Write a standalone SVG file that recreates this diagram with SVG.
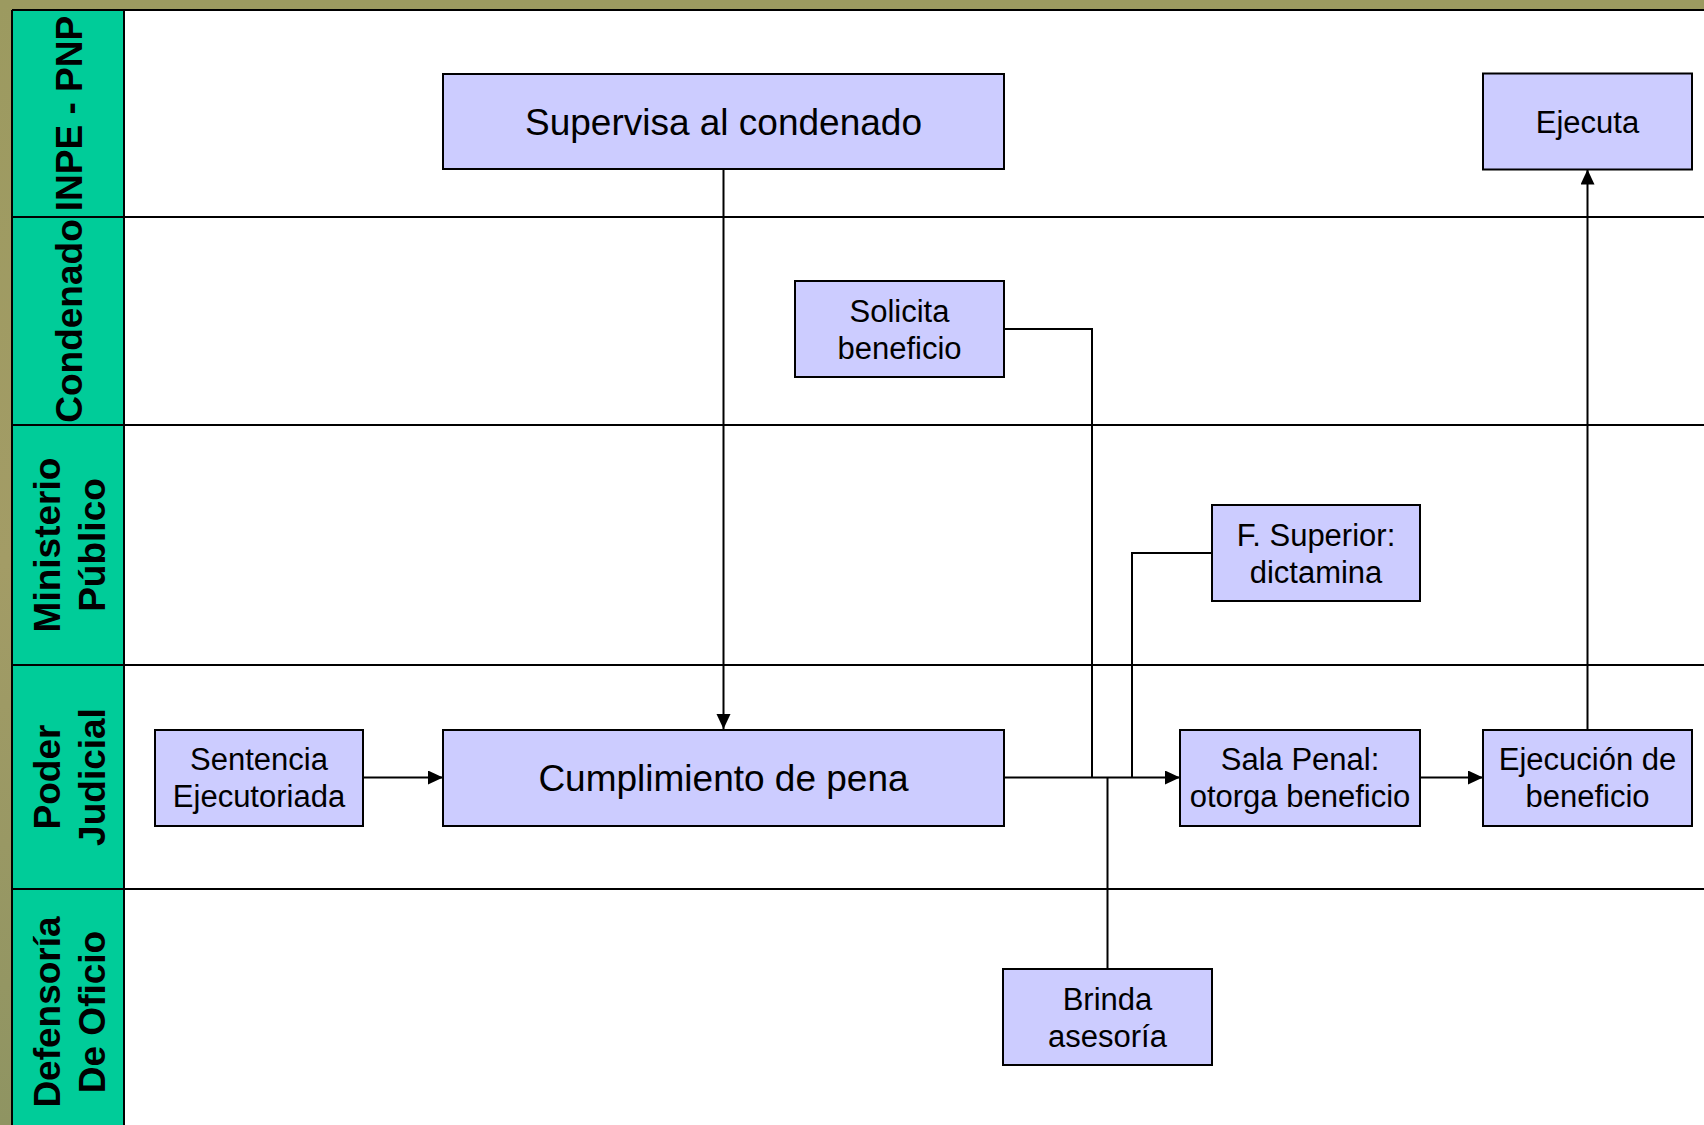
<svg xmlns="http://www.w3.org/2000/svg" width="1704" height="1125" viewBox="0 0 1704 1125">
  <defs>
    <marker id="arrow" markerUnits="userSpaceOnUse" markerWidth="16" markerHeight="16" refX="15" refY="7" orient="auto">
      <path d="M0,0 L15,7 L0,14 z" fill="#000"/>
    </marker>
    <linearGradient id="bg" x1="0" y1="0" x2="0" y2="1">
      <stop offset="0" stop-color="#9C9A60"/>
      <stop offset="0.5" stop-color="#A39C66"/>
      <stop offset="1" stop-color="#8F9462"/>
    </linearGradient>
  </defs>
  <style>
    .lane-head { fill: #00CC99; }
    .lane-text { font-family: "Liberation Sans", Arial, sans-serif; font-weight: bold; font-size: 37px; fill: #000; text-anchor: middle; }
    .box rect { fill: #CCCCFF; stroke: #000; stroke-width: 2; }
    .box text { font-family: "Liberation Sans", Arial, sans-serif; font-size: 31px; fill: #000; text-anchor: middle; }
    .box text.big { font-size: 37px; }
    .conn { fill: none; stroke: #000; stroke-width: 2; }
    .grid { stroke: #000; stroke-width: 2; fill: none; }
  </style>

  <!-- background -->
  <rect x="0" y="0" width="1704" height="1125" fill="url(#bg)"/>
  <!-- main area -->
  <rect x="12" y="10" width="1700" height="1125" fill="#FFFFFF"/>
  <rect x="12" y="10" width="112" height="1125" class="lane-head"/>

  <!-- lane grid -->
  <g id="lanes">
    <line class="grid" x1="12" y1="10" x2="1704" y2="10" stroke-width="3"/>
    <line class="grid" x1="12" y1="217" x2="1704" y2="217"/>
    <line class="grid" x1="12" y1="425" x2="1704" y2="425"/>
    <line class="grid" x1="12" y1="665" x2="1704" y2="665"/>
    <line class="grid" x1="12" y1="889" x2="1704" y2="889"/>
    <line class="grid" x1="12" y1="10" x2="12" y2="1125"/>
    <line class="grid" x1="124" y1="10" x2="124" y2="1125"/>
  </g>

  <g id="lane-inpe">
    <text class="lane-text" transform="translate(81.5,113.5) rotate(-90)">INPE - PNP</text>
  </g>
  <g id="lane-condenado">
    <text class="lane-text" transform="translate(81.5,321) rotate(-90)">Condenado</text>
  </g>
  <g id="lane-ministerio">
    <text class="lane-text" transform="translate(60,545) rotate(-90)">Ministerio</text>
    <text class="lane-text" transform="translate(105,545) rotate(-90)">Público</text>
  </g>
  <g id="lane-poder">
    <text class="lane-text" transform="translate(60,777) rotate(-90)">Poder</text>
    <text class="lane-text" transform="translate(105,777) rotate(-90)">Judicial</text>
  </g>
  <g id="lane-defensoria">
    <text class="lane-text" transform="translate(60,1012) rotate(-90)">Defensoría</text>
    <text class="lane-text" transform="translate(105,1012) rotate(-90)">De Oficio</text>
  </g>

  <!-- connectors -->
  <g id="connectors">
    <path class="conn" d="M723.5,169.5 V729" marker-end="url(#arrow)"/>
    <path class="conn" d="M364,777.5 H443" marker-end="url(#arrow)"/>
    <path class="conn" d="M1004,777.5 H1180" marker-end="url(#arrow)"/>
    <path class="conn" d="M1004,329 H1092 V777.5"/>
    <path class="conn" d="M1212,553 H1132 V777.5"/>
    <path class="conn" d="M1107.5,969 V777.5"/>
    <path class="conn" d="M1420,777.5 H1483" marker-end="url(#arrow)"/>
    <path class="conn" d="M1587.5,729 V169.5" marker-end="url(#arrow)"/>
  </g>

  <!-- nodes -->
  <g id="node-supervisa" class="box">
    <rect x="443" y="74" width="561" height="95"/>
    <text class="big" x="723.5" y="134.5">Supervisa al condenado</text>
  </g>
  <g id="node-ejecuta" class="box">
    <rect x="1483" y="73.5" width="209" height="96"/>
    <text x="1587.5" y="132.5">Ejecuta</text>
  </g>
  <g id="node-solicita" class="box">
    <rect x="795" y="281" width="209" height="96"/>
    <text x="899.5" y="321.5">Solicita</text>
    <text x="899.5" y="358.5">beneficio</text>
  </g>
  <g id="node-fsuperior" class="box">
    <rect x="1212" y="505" width="208" height="96"/>
    <text x="1316" y="545.5">F. Superior:</text>
    <text x="1316" y="582.5">dictamina</text>
  </g>
  <g id="node-sentencia" class="box">
    <rect x="155" y="730" width="208" height="96"/>
    <text x="259" y="770">Sentencia</text>
    <text x="259" y="807">Ejecutoriada</text>
  </g>
  <g id="node-cumplimiento" class="box">
    <rect x="443" y="730" width="561" height="96"/>
    <text class="big" x="723.5" y="790.5">Cumplimiento de pena</text>
  </g>
  <g id="node-sala" class="box">
    <rect x="1180" y="730" width="240" height="96"/>
    <text x="1300" y="770">Sala Penal:</text>
    <text x="1300" y="807">otorga beneficio</text>
  </g>
  <g id="node-ejecucion" class="box">
    <rect x="1483" y="730" width="209" height="96"/>
    <text x="1587.5" y="770">Ejecución de</text>
    <text x="1587.5" y="807">beneficio</text>
  </g>
  <g id="node-brinda" class="box">
    <rect x="1003" y="969" width="209" height="96"/>
    <text x="1107.5" y="1009.5">Brinda</text>
    <text x="1107.5" y="1046.5">asesoría</text>
  </g>
</svg>
